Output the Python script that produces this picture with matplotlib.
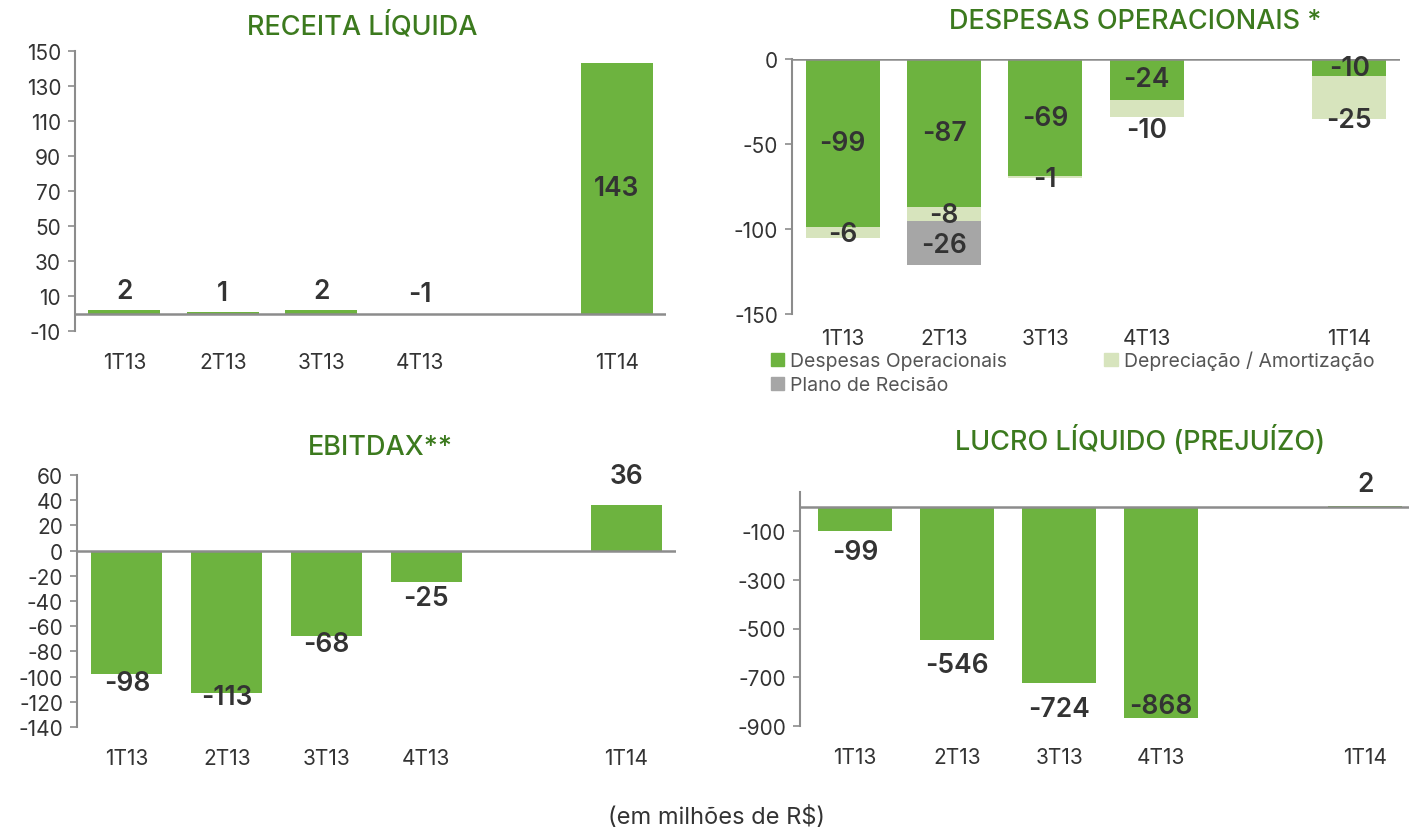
import numpy as np
import matplotlib
matplotlib.use("Agg")
import matplotlib.pyplot as plt
from matplotlib.patches import Patch

plt.rcParams['font.family'] = ['Inter', 'DejaVu Sans']
plt.rcParams['axes.unicode_minus'] = False

# ---------------- data ----------------
categories = ["1T13", "2T13", "3T13", "4T13", "1T14"]

receita = [2, 1, 2, -1, 143]

desp_operacionais = [-99, -87, -69, -24, -10]
depreciacao = [-6, -8, -1, -10, -25]
plano_recisao = [0, -26, 0, 0, 0]

ebitdax = [-98, -113, -68, -25, 36]

lucro = [-99, -546, -724, -868, 2]

titles = ["RECEITA LÍQUIDA", "DESPESAS OPERACIONAIS *", "EBITDAX**",
          "LUCRO LÍQUIDO (PREJUÍZO)"]
legend_labels = ["Despesas Operacionais", "Depreciação / Amortização",
                 "Plano de Recisão"]
footer = "(em milhões de R$)"

# ---------------- style ----------------
GREEN = "#6DB33F"
LIGHT = "#D7E4BD"
GRAY = "#A6A6A6"
TITLE_GREEN = "#3C7A1E"
TEXT = "#333333"
AXIS = "#8C8C8C"
W, H = 1409, 829
BAR_W = 0.73
xpos = np.array([0, 1, 2, 3, 5])  # gap slot before last category

fig = plt.figure(figsize=(W / 100, H / 100), dpi=100)


def px_axes(left, right, top, bottom):
    return fig.add_axes([left / W, 1 - bottom / H, (right - left) / W, (bottom - top) / H])


def style_axes(ax, ylim, yticks, xlim=(-0.5, 5.5)):
    ax.set_xlim(*xlim)
    ax.set_ylim(*ylim)
    for s in ["top", "right", "bottom"]:
        ax.spines[s].set_visible(False)
    ax.spines["left"].set_color(AXIS)
    ax.spines["left"].set_linewidth(1.5)
    ax.axhline(0, color=AXIS, lw=1.8, zorder=3)
    ax.set_yticks(yticks)
    ax.tick_params(axis="y", colors=AXIS, labelcolor=TEXT, labelsize=15,
                   length=5, width=1.2, direction="out", pad=5)
    ax.set_xticks(xpos)
    ax.set_xticklabels(categories)
    ax.tick_params(axis="x", length=0, labelsize=15, labelcolor=TEXT, pad=15)
    ax.patch.set_alpha(0)


def label(ax, x, y, txt, dy_px=0, va="center"):
    ax.annotate(txt, (x, y), xytext=(0, dy_px * 0.72), textcoords="offset points",
                ha="center", va=va, fontsize=19, fontweight=600,
                color=TEXT, zorder=5, annotation_clip=False)


# ---------- chart 1: Receita ----------
ax1 = px_axes(75, 666, 52, 332)
style_axes(ax1, (-10, 150), np.arange(-10, 151, 20))
ax1.bar(xpos, receita, width=BAR_W, color=GREEN, zorder=2)
for x, v in zip(xpos, receita):
    if v > 50:
        label(ax1, x, v / 2, str(v))
    else:
        label(ax1, x, max(v, 0), str(v), dy_px=19)

# ---------- chart 2: Despesas ----------
ax2 = px_axes(792, 1400, 60, 315)
style_axes(ax2, (-150, 0), [0, -50, -100, -150])
ax2.tick_params(axis="x", pad=10)
d1 = np.array(desp_operacionais)
d2 = np.array(depreciacao)
d3 = np.array(plano_recisao)
ax2.bar(xpos, d1, width=BAR_W, color=GREEN, zorder=2)
ax2.bar(xpos, d2, bottom=d1, width=BAR_W, color=LIGHT, zorder=2)
m3 = d3 != 0
ax2.bar(xpos[m3], d3[m3], bottom=(d1 + d2)[m3], width=BAR_W, color=GRAY, zorder=2)
dep_dy = [-2, -1, -2, -22, -23]
for i, x in enumerate(xpos):
    label(ax2, x, d1[i] / 2, str(d1[i]))
    label(ax2, x, d1[i] + d2[i] / 2, str(d2[i]), dy_px=dep_dy[i])
    if d3[i] != 0:
        label(ax2, x, d1[i] + d2[i] + d3[i] / 2, str(d3[i]), dy_px=-2)
handles = [Patch(color=GREEN), Patch(color=GRAY), Patch(color=LIGHT)]
leg = ax2.legend(handles, [legend_labels[0], legend_labels[2], legend_labels[1]],
                 ncol=2, loc="upper left", bbox_to_anchor=(-0.035, -0.145),
                 frameon=False, fontsize=14, handlelength=0.7, handleheight=0.7,
                 handletextpad=0.3, columnspacing=5.0, labelspacing=0.3,
                 borderpad=0, borderaxespad=0)
for t in leg.get_texts():
    t.set_color("#555555")

# ---------- chart 3: EBITDAX ----------
ax3 = px_axes(77, 676, 476, 728)
style_axes(ax3, (-140, 60), np.arange(-140, 61, 20))
ax3.bar(xpos, ebitdax, width=BAR_W - 0.02, color=GREEN, zorder=2)
eb_dy = [-9, -4, -8, -16, 29]
for x, v, dy in zip(xpos, ebitdax, eb_dy):
    label(ax3, x, v, str(v), dy_px=dy)

# ---------- chart 4: Lucro ----------
ax4 = px_axes(800, 1409, 493, 727)
style_axes(ax4, (-900, 60), [-100, -300, -500, -700, -900], xlim=(-0.54, 5.43))
ax4.bar(xpos, lucro, width=BAR_W, color=GREEN, zorder=2)
lu_dy = [-21, -25, -26, 12, 22]
for x, v, dy in zip(xpos, lucro, lu_dy):
    label(ax4, x, v, str(v), dy_px=dy)

# ---------- titles / footer ----------
title_pos = [(362, 27), (1135, 22), (380, 448), (1140, 441)]
for t, (x, y) in zip(titles, title_pos):
    fig.text(x / W, 1 - y / H, t, ha="center", va="center", fontsize=19.5,
             fontweight=500, color=TITLE_GREEN)
fig.text(717 / W, 1 - 818 / H, footer, ha="center", va="center",
         fontsize=17, color=TEXT)

fig.savefig("out.png", dpi=100)
